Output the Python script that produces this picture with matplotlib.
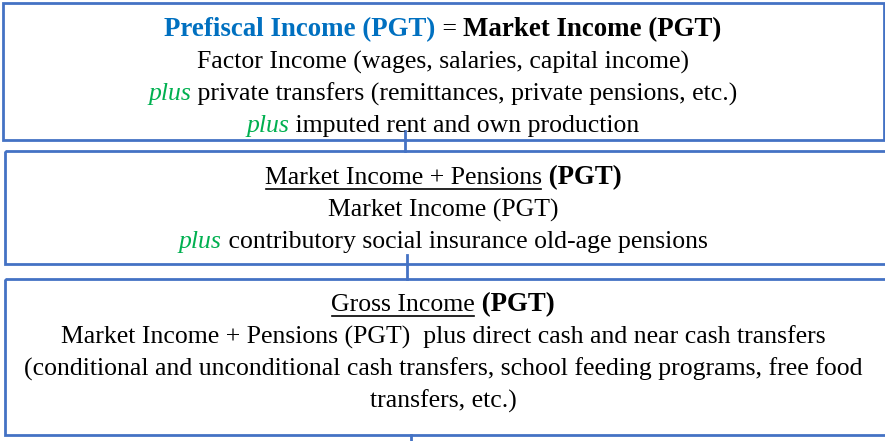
import matplotlib
matplotlib.use('Agg')
import matplotlib.pyplot as plt
from matplotlib.patches import Rectangle

# each line is a list of (text, style) pieces
# styles: n = normal, b = bold, blue = bold blue, plus = italic green, u = underlined
box1_lines = [
    [('Prefiscal Income (PGT)', 'blue'), (' = ', 'n'), ('Market Income (PGT)', 'b')],
    [('Factor Income (wages, salaries, capital income)', 'n')],
    [('plus', 'plus'), (' private transfers (remittances, private pensions, etc.)', 'n')],
    [('plus', 'plus'), (' imputed rent and own production', 'n')],
]
box2_lines = [
    [('Market Income + Pensions', 'u'), (' (PGT)', 'b')],
    [('Market Income (PGT)', 'n')],
    [('plus', 'plus'), (' contributory social insurance old-age pensions', 'n')],
]
box3_lines = [
    [('Gross Income', 'u'), (' (PGT)', 'b')],
    [('Market Income + Pensions (PGT)  plus direct cash and near cash transfers', 'n')],
    [('(conditional and unconditional cash transfers, school feeding programs, free food', 'n')],
    [('transfers, etc.)', 'n')],
]
boxes = [box1_lines, box2_lines, box3_lines]

# box geometry in pixels (x0, y0, x1, y1), first text line y, line step
box_rects = [(3, 3, 884, 140), (5, 151, 895, 264), (5, 279, 895, 435)]
first_line_y = [30, 178, 305]
line_step = 32
connectors = [(405, 131, 151), (407, 255, 279), (411, 435, 445)]

edge_color = '#4472C4'
blue = '#0070C0'
green = '#00B050'
font = 'Liberation Serif'
fsize = 18.5

styles = {
    'n': dict(color='black', fontsize=fsize),
    'b': dict(color='black', fontweight='bold', fontsize=fsize + 0.9),
    'blue': dict(color=blue, fontweight='bold', fontsize=fsize + 0.9),
    'plus': dict(color=green, fontstyle='italic', fontsize=fsize),
    'u': dict(color='black', fontsize=fsize),
}

fig = plt.figure(figsize=(8.85, 4.41), dpi=100)
ax = fig.add_axes([0, 0, 1, 1])
ax.set_xlim(0, 885)
ax.set_ylim(441, 0)
ax.axis('off')

for (x0, y0, x1, y1) in box_rects:
    ax.add_patch(Rectangle((x0, y0), x1 - x0, y1 - y0, fill=False,
                           edgecolor=edge_color, linewidth=2))
for (cx, ya, yb) in connectors:
    ax.plot([cx, cx], [ya, yb], color=edge_color, linewidth=2)

renderer = fig.canvas.get_renderer()
inv = ax.transData.inverted()
center_x = 443

for lines, y_start in zip(boxes, first_line_y):
    for i, pieces in enumerate(lines):
        y = y_start + i * line_step
        texts = []
        widths = []
        for s, st in pieces:
            t = ax.text(0, y, s, family=font, va='center', ha='left', **styles[st])
            bb = t.get_window_extent(renderer)
            p0 = inv.transform((bb.x0, bb.y0))
            p1 = inv.transform((bb.x1, bb.y1))
            texts.append((t, st))
            widths.append(p1[0] - p0[0])
        x = center_x - sum(widths) / 2
        for (t, st), w in zip(texts, widths):
            t.set_x(x)
            if st == 'u':
                ax.plot([x + 1, x + w - 1], [y + 11, y + 11], color='black', linewidth=1.2)
            x += w

fig.savefig('out.png', dpi=100)
